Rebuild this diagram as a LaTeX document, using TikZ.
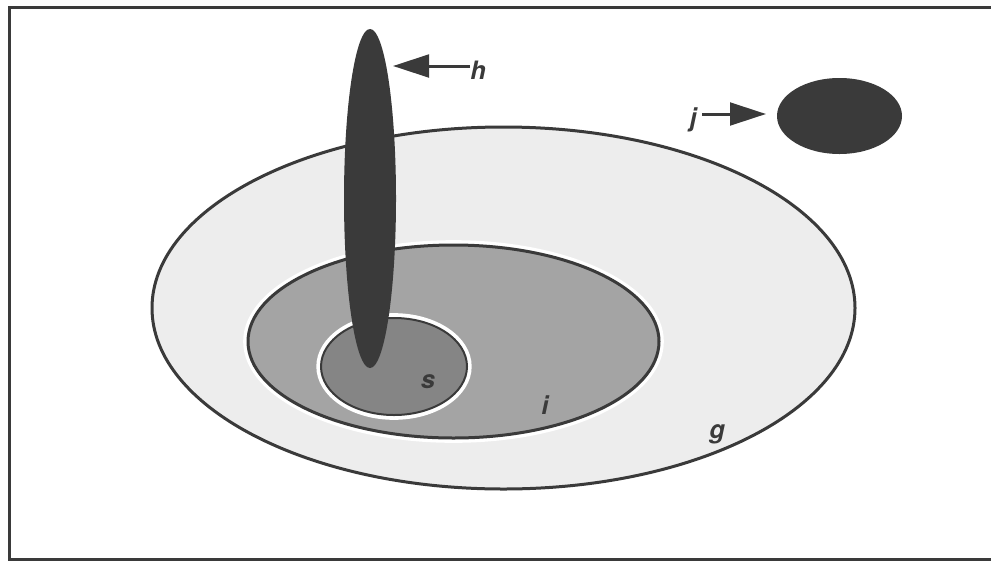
\documentclass[tikz,border=0pt]{standalone}
\usepackage{fontspec}
\setmainfont{TeX Gyre Heros}
\usetikzlibrary{arrows.meta,shapes.geometric}
\definecolor{ink}{HTML}{3A3A3A}
\definecolor{paleset}{HTML}{EDEDED}
\definecolor{midset}{HTML}{A4A4A4}
\definecolor{deepset}{HTML}{858585}
\tikzset{
  setbox/.style={ellipse, inner sep=0pt, draw=ink, line width=2.25pt},
  halo/.style={ellipse, inner sep=0pt, draw=white, line width=4.5pt},
  blob/.style={ellipse, inner sep=0pt, draw=none, fill=ink},
  lbl/.style={font=\fontsize{19}{19}\selectfont\bfseries\itshape, text=ink, inner sep=0pt},
  pointer/.style={-{Triangle[length=27pt, width=17pt]}, draw=ink, fill=ink, line width=2.25pt}
}
\begin{document}
\begin{tikzpicture}[x=0.75pt, y=-0.75pt]
  \useasboundingbox (0,0) rectangle (991,561);
  \fill[white] (0,0) rectangle (991,561);
  % frame, open on the right
  \draw[draw=ink, line width=2.25pt] (991,7.5) -- (9.5,7.5) -- (9.5,559.5) -- (991,559.5);

  % nested sets
  \node[setbox, fill=paleset, minimum width=527.25pt, minimum height=271.5pt] (gset) at (503.5,308) {};
  \node[halo, minimum width=311pt, minimum height=147.5pt] (ihalo) at (453.5,341.5) {};
  \node[setbox, fill=midset, minimum width=308.25pt, minimum height=144.75pt] (iset) at (453.5,341.5) {};
  \node[halo, minimum width=112pt, minimum height=75.5pt] (shalo) at (394,366.5) {};
  \node[setbox, fill=deepset, line width=1.5pt, minimum width=109.5pt, minimum height=72.75pt] (sset) at (394,366.5) {};

  % dark blobs
  \node[blob, minimum width=39pt, minimum height=254.25pt] (hset) at (370,198.5) {};
  \node[blob, minimum width=93.75pt, minimum height=57pt] (jset) at (839.5,116) {};

  % labels
  \node[lbl] (slbl) at (428,382) {s};
  \node[lbl] (ilbl) at (545,405) {i};
  \node[lbl] (glbl) at (717,434) {g};
  \node[lbl, anchor=west] (hlbl) at (470,70) {h};
  \node[lbl, anchor=east] (jlbl) at (697,120) {j};

  % pointers
  \coordinate (htip) at (393,66);
  \coordinate (jtip) at (766,114);
  \draw[pointer] (hlbl.west |- htip) -- (htip);
  \draw[pointer] (jlbl.east |- jtip) ++(5,0) -- (jtip);
\end{tikzpicture}
\end{document}
